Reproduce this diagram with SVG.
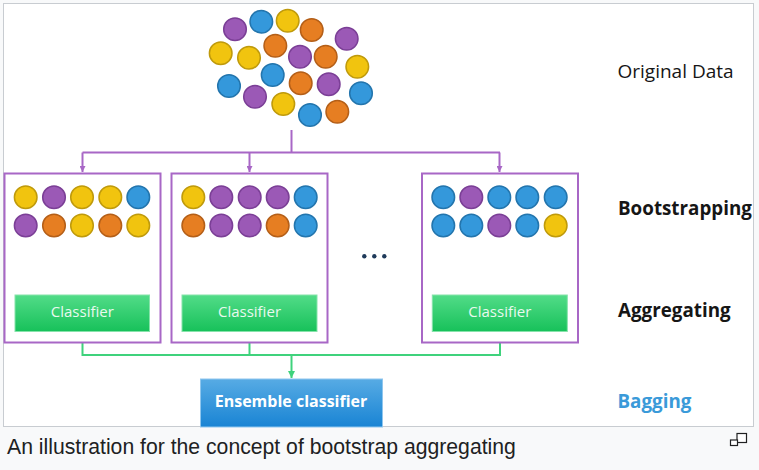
<svg xmlns="http://www.w3.org/2000/svg" width="759" height="470" viewBox="0 0 759 470">
<defs>
<style>
.p{fill:#9b59b6;stroke:#7b3f96;stroke-width:1.5}
.b{fill:#3498db;stroke:#2375ad;stroke-width:1.5}
.y{fill:#f1c40f;stroke:#bf9a0c;stroke-width:1.5}
.o{fill:#e67e22;stroke:#b45f18;stroke-width:1.5}
.box{fill:#fff;stroke:#a867c6;stroke-width:2}
.pl{fill:none;stroke:#a867c6;stroke-width:2}
.gl{fill:none;stroke:#3fd27c;stroke-width:2}
.cls{fill:url(#gg);stroke:#86e3aa;stroke-width:1}
.clt{font-family:"Open Sans","Noto Sans",sans-serif;font-size:15px;fill:#e9f9ef;text-anchor:middle}
.lab{font-family:"Open Sans","Noto Sans",sans-serif;font-size:19px;fill:#161616}
.bold{font-weight:bold;font-size:18.8px}
</style>
<linearGradient id="gg" x1="0" y1="0" x2="0" y2="1">
<stop offset="0" stop-color="#52dc88"/>
<stop offset="1" stop-color="#17c15a"/>
</linearGradient>
<linearGradient id="bg" x1="0" y1="0" x2="0" y2="1">
<stop offset="0" stop-color="#57abe4"/>
<stop offset="1" stop-color="#1984d4"/>
</linearGradient>
<marker id="ap" viewBox="0 0 6 6" refX="3" refY="6" markerWidth="6" markerHeight="6" markerUnits="userSpaceOnUse">
<path d="M0,0 L6,0 L3,6 z" fill="#a867c6"/>
</marker>
<marker id="ag" viewBox="0 0 6 6" refX="3" refY="6" markerWidth="7" markerHeight="7" markerUnits="userSpaceOnUse">
<path d="M0,0 L6,0 L3,6 z" fill="#3fd27c"/>
</marker>
</defs>
<rect x="0" y="0" width="759" height="470" fill="#f8f9fa"/>
<rect x="3.5" y="3.5" width="750" height="423" fill="#fff" stroke="#c8ccd1" stroke-width="1"/>

<g id="original-data">
<circle class="p" cx="235" cy="29.3" r="11.3"/>
<circle class="b" cx="261.3" cy="21.7" r="11.3"/>
<circle class="y" cx="287.7" cy="20.7" r="11.3"/>
<circle class="o" cx="311.7" cy="30" r="11.3"/>
<circle class="p" cx="346.7" cy="38.7" r="11.3"/>
<circle class="y" cx="220.7" cy="53.3" r="11.3"/>
<circle class="y" cx="249" cy="57.7" r="11.3"/>
<circle class="o" cx="275.3" cy="45.7" r="11.3"/>
<circle class="p" cx="300" cy="56.7" r="11.3"/>
<circle class="o" cx="325.7" cy="56.7" r="11.3"/>
<circle class="y" cx="357.3" cy="66.7" r="11.3"/>
<circle class="b" cx="272.7" cy="75" r="11.3"/>
<circle class="b" cx="229" cy="86" r="11.3"/>
<circle class="p" cx="255" cy="96.7" r="11.3"/>
<circle class="o" cx="300.7" cy="83.3" r="11.3"/>
<circle class="p" cx="328.7" cy="84.3" r="11.3"/>
<circle class="b" cx="361" cy="93.3" r="11.3"/>
<circle class="y" cx="283.3" cy="104" r="11.3"/>
<circle class="b" cx="310" cy="115" r="11.3"/>
<circle class="o" cx="337.3" cy="111.7" r="11.3"/>
</g>

<g id="connectors">
<path class="pl" d="M291.5,130 V152.5"/>
<path class="pl" d="M82.5,152.5 H500"/>
<path class="pl" d="M82.5,152.5 V172" marker-end="url(#ap)"/>
<path class="pl" d="M249.5,152.5 V172" marker-end="url(#ap)"/>
<path class="pl" d="M499.5,152.5 V172" marker-end="url(#ap)"/>
<path class="gl" d="M82.5,332 V355 H500 V332"/>
<path class="gl" d="M249.5,332 V355"/>
<path class="gl" d="M291.5,355 V378" marker-end="url(#ag)"/>
</g>

<g id="sample-1">
<rect class="box" x="4.5" y="173.5" width="156" height="169"/>
<circle class="y" cx="25.7" cy="197.3" r="11.3"/>
<circle class="p" cx="54" cy="197.3" r="11.3"/>
<circle class="y" cx="82" cy="197.3" r="11.3"/>
<circle class="y" cx="110.3" cy="197.3" r="11.3"/>
<circle class="b" cx="138.3" cy="197.3" r="11.3"/>
<circle class="p" cx="25.7" cy="225.5" r="11.3"/>
<circle class="o" cx="54" cy="225.5" r="11.3"/>
<circle class="y" cx="82" cy="225.5" r="11.3"/>
<circle class="o" cx="110.3" cy="225.5" r="11.3"/>
<circle class="y" cx="138.3" cy="225.5" r="11.3"/>
</g>
<g id="classifier-1">
<rect class="cls" x="15" y="295" width="134.5" height="36.5"/>
<text class="clt" x="82.3" y="317">Classifier</text>
</g>

<g id="sample-2">
<rect class="box" x="171.5" y="173.5" width="156" height="169"/>
<circle class="y" cx="193.3" cy="197.3" r="11.3"/>
<circle class="p" cx="221.3" cy="197.3" r="11.3"/>
<circle class="p" cx="249.7" cy="197.3" r="11.3"/>
<circle class="p" cx="277.7" cy="197.3" r="11.3"/>
<circle class="b" cx="305.7" cy="197.3" r="11.3"/>
<circle class="o" cx="193.3" cy="225.5" r="11.3"/>
<circle class="p" cx="221.3" cy="225.5" r="11.3"/>
<circle class="p" cx="249.7" cy="225.5" r="11.3"/>
<circle class="o" cx="277.7" cy="225.5" r="11.3"/>
<circle class="b" cx="305.7" cy="225.5" r="11.3"/>
</g>
<g id="classifier-2">
<rect class="cls" x="182" y="295" width="135" height="36.5"/>
<text class="clt" x="249.5" y="317">Classifier</text>
</g>

<g id="ellipsis" fill="#1f3a5a">
<circle cx="364.3" cy="256.3" r="2.2"/>
<circle cx="374.3" cy="256.3" r="2.2"/>
<circle cx="384.3" cy="256.3" r="2.2"/>
</g>

<g id="sample-n">
<rect class="box" x="422" y="173.5" width="156" height="169"/>
<circle class="b" cx="443.3" cy="197.3" r="11.3"/>
<circle class="p" cx="471.3" cy="197.3" r="11.3"/>
<circle class="b" cx="499.3" cy="197.3" r="11.3"/>
<circle class="b" cx="527.3" cy="197.3" r="11.3"/>
<circle class="b" cx="555.7" cy="197.3" r="11.3"/>
<circle class="b" cx="443.3" cy="225.5" r="11.3"/>
<circle class="b" cx="471.3" cy="225.5" r="11.3"/>
<circle class="p" cx="499.3" cy="225.5" r="11.3"/>
<circle class="b" cx="527.3" cy="225.5" r="11.3"/>
<circle class="y" cx="555.7" cy="225.5" r="11.3"/>
</g>
<g id="classifier-n">
<rect class="cls" x="432.3" y="295" width="135" height="36.5"/>
<text class="clt" x="499.8" y="317">Classifier</text>
</g>

<g id="ensemble">
<rect x="200.5" y="379" width="182" height="48" fill="url(#bg)" stroke="#8fc6ee" stroke-width="1"/>
<text x="291" y="407" font-family="'Open Sans','Noto Sans',sans-serif" font-size="16px" font-weight="bold" fill="#fff" text-anchor="middle">Ensemble classifier</text>
</g>

<g id="labels">
<text class="lab" x="617.5" y="77.5">Original Data</text>
<text class="lab bold" x="618" y="214.5">Bootstrapping</text>
<text class="lab bold" x="618" y="317">Aggregating</text>
<text class="lab bold" x="617.5" y="408" style="fill:#3a9ad9">Bagging</text>
</g>

<text x="7" y="454" font-family="'Liberation Sans',Arial,sans-serif" font-size="21.2px" fill="#202122">An illustration for the concept of bootstrap aggregating</text>
<g id="enlarge-icon" fill="none" stroke="#202122" stroke-width="1.2">
<rect x="737" y="433.5" width="9.5" height="9" fill="#fff"/>
<rect x="730.5" y="440" width="7" height="5.5" fill="#fff"/>
</g>
</svg>
